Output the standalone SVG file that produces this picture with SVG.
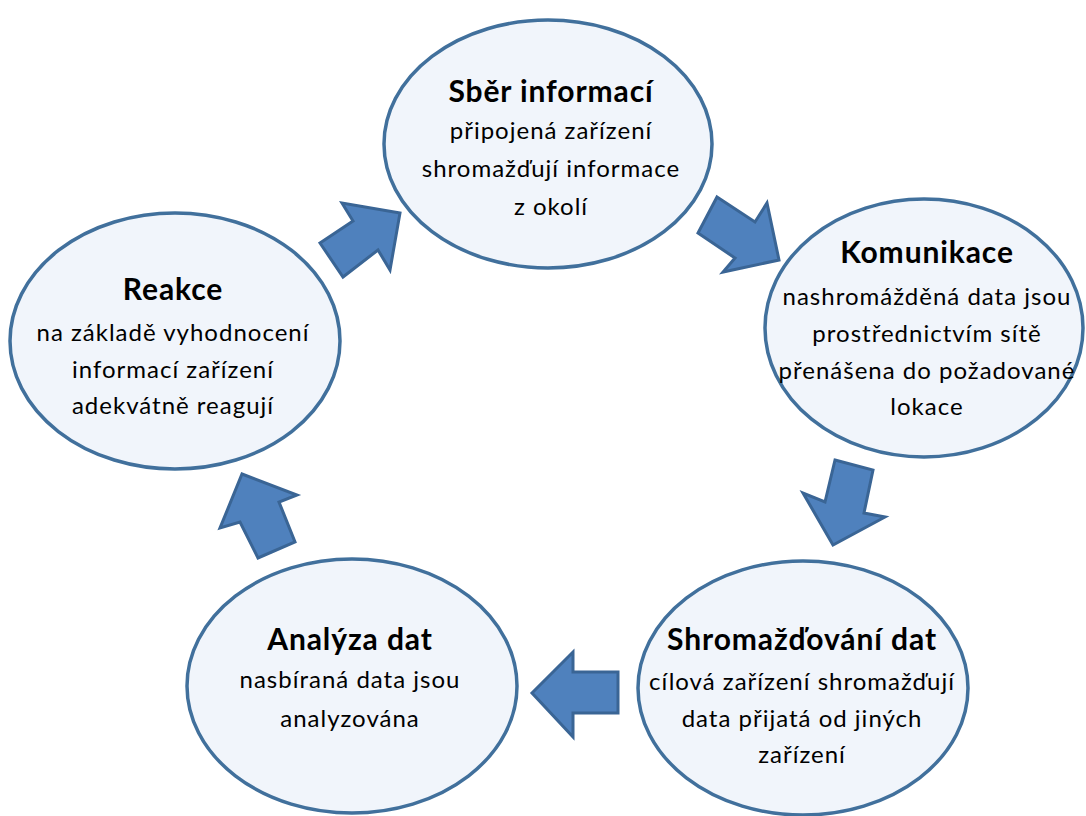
<svg xmlns="http://www.w3.org/2000/svg" width="1086" height="816" viewBox="0 0 1086 816">
  <style>
    .node ellipse { fill: #f1f5fb; stroke: #41709c; stroke-width: 3.5; }
    .title { font-family: Lato, "Liberation Sans", sans-serif; font-weight: bold; font-size: 30px; letter-spacing: 0.9px; fill: #000; text-anchor: middle; }
    .body { font-family: Lato, "Liberation Sans", sans-serif; font-size: 24px; letter-spacing: 1px; fill: #000; text-anchor: middle; }
    .arrow { fill: #4f81bd; stroke: #3a6595; stroke-width: 3; stroke-linejoin: miter; }
  </style>
  <rect width="1086" height="816" fill="#ffffff"/>

  <!-- block arrows between the stages -->
  <g id="connectors">
    <polygon class="arrow" points="320,243 353,221 342,203 400,213 390,270 378,250 343,277"/>
    <polygon class="arrow" points="717,197 755,222 767,203 779,260 723,272 735,258 698,233"/>
    <polygon class="arrow" points="835,460 873,470 864,513 885,517 833,545 803,493 825,502"/>
    <polygon class="arrow" points="618,672 618,713 573,713 573,737 532,693 573,652 573,672"/>
    <polygon class="arrow" points="242,474 297,495 279,502 295,542 258,558 240,522 220,528"/>
  </g>

  <g id="node-sber" class="node">
    <ellipse cx="548" cy="144" rx="164" ry="124"/>
    <text class="title" x="551" y="102">Sběr informací</text>
    <text class="body" x="551" y="139">připojená zařízení</text>
    <text class="body" x="551" y="177">shromažďují informace</text>
    <text class="body" x="551" y="215">z okolí</text>
  </g>

  <g id="node-komunikace" class="node">
    <ellipse cx="924" cy="328" rx="159" ry="129"/>
    <text class="title" x="927" y="263">Komunikace</text>
    <text class="body" x="927" y="305">nashromážděná data jsou</text>
    <text class="body" x="927" y="342">prostřednictvím sítě</text>
    <text class="body" x="927" y="379">přenášena do požadované</text>
    <text class="body" x="927" y="415">lokace</text>
  </g>

  <g id="node-shromazdovani" class="node">
    <ellipse cx="803" cy="688" rx="165" ry="127"/>
    <text class="title" x="802" y="650">Shromažďování dat</text>
    <text class="body" x="802" y="690">cílová zařízení shromažďují</text>
    <text class="body" x="802" y="727">data přijatá od jiných</text>
    <text class="body" x="802" y="763">zařízení</text>
  </g>

  <g id="node-analyza" class="node">
    <ellipse cx="352" cy="686" rx="165" ry="127"/>
    <text class="title" x="350" y="650">Analýza dat</text>
    <text class="body" x="350" y="688">nasbíraná data jsou</text>
    <text class="body" x="350" y="727">analyzována</text>
  </g>

  <g id="node-reakce" class="node">
    <ellipse cx="175" cy="341" rx="165" ry="128"/>
    <text class="title" x="173" y="300">Reakce</text>
    <text class="body" x="173" y="341">na základě vyhodnocení</text>
    <text class="body" x="173" y="378">informací zařízení</text>
    <text class="body" x="173" y="414">adekvátně reagují</text>
  </g>
</svg>
